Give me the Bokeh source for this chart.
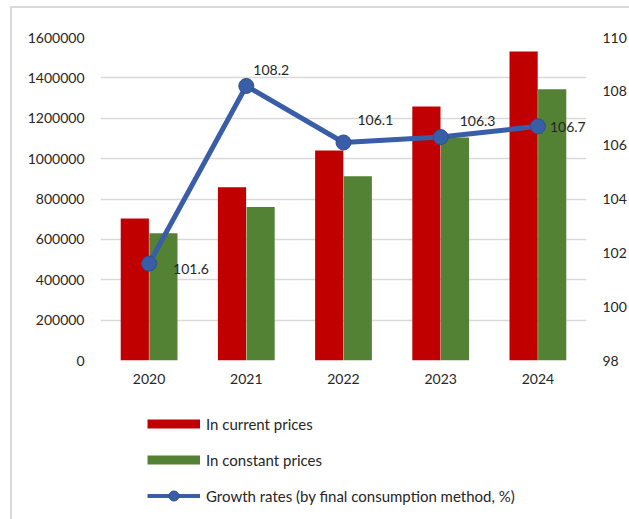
import math
from bokeh.plotting import figure
from bokeh.layouts import column
from bokeh.models import (FactorRange, Range1d, LinearAxis, Legend, LegendItem,
                          ColumnDataSource, FixedTicker, BasicTickFormatter, LabelSet)
from bokeh.transform import dodge
from bokeh.core.properties import value
from bokeh.embed import file_html
from bokeh.resources import INLINE

# ---- data ----
years = ["2020", "2021", "2022", "2023", "2024"]
current_prices = [703000, 858000, 1040000, 1258000, 1531000]
constant_prices = [630000, 760000, 913000, 1105000, 1344000]
growth_rates = [101.6, 108.2, 106.1, 106.3, 106.7]
left_ticks = [0, 200000, 400000, 600000, 800000, 1000000, 1200000, 1400000, 1600000]
right_ticks = [98, 100, 102, 104, 106, 108, 110]
series_names = ["In current prices", "In constant prices",
                "Growth rates (by final consumption method, %)"]

# label placement (pixels, style only)
label_dx = [24, 7, 14, 19, 12]
label_dy = [-5, 16, 22, 16, -1]

FONT = "Lato"
TEXT = "#262626"
RED = "#C00000"
GREEN = "#548235"
BLUE = "#3A5DA8"
GRID = "#D9D9D9"

src = ColumnDataSource(dict(
    year=years, current=current_prices, constant=constant_prices,
    growth=growth_rates, glabel=[f"{g:.1f}" for g in growth_rates],
    dx=label_dx, dy=label_dy,
))

p = figure(x_range=FactorRange(*years, range_padding=0),
           y_range=Range1d(0, 1600000),
           width=617, height=384, output_backend="svg", toolbar_location=None,
           min_border_left=88, min_border_right=42, min_border_top=29,
           min_border_bottom=32)
p.extra_y_ranges = {"rate": Range1d(98, 110)}
p.outline_line_color = None
p.background_fill_color = "white"
p.border_fill_color = "white"

p.xgrid.grid_line_color = None
p.ygrid.grid_line_color = GRID
p.ygrid.grid_line_width = 1.5
p.ygrid.ticker = FixedTicker(ticks=left_ticks)

ya = p.yaxis[0]
ya.ticker = FixedTicker(ticks=left_ticks)
ya.formatter = BasicTickFormatter(use_scientific=False)
ra = LinearAxis(y_range_name="rate", ticker=FixedTicker(ticks=right_ticks))
p.add_layout(ra, "right")

for ax in [ya, ra, p.xaxis[0]]:
    ax.axis_line_color = None
    ax.major_tick_line_color = None
    ax.minor_tick_line_color = None
    ax.major_tick_out = 0
    ax.major_tick_in = 0
    ax.minor_tick_out = 0
    ax.major_label_text_font = FONT
    ax.major_label_text_font_size = "14px"
    ax.major_label_text_color = TEXT
ya.major_label_standoff = 16
ra.major_label_standoff = 16
p.xaxis[0].major_label_standoff = 13

# bars
p.vbar(x=dodge("year", -0.147, range=p.x_range), top="current", width=0.29,
       source=src, fill_color=RED, line_color=None)
p.vbar(x=dodge("year", 0.147, range=p.x_range), top="constant", width=0.29,
       source=src, fill_color=GREEN, line_color=None)

# growth line
p.line(x="year", y="growth", source=src, y_range_name="rate",
       line_color=BLUE, line_width=5, line_join="round")
p.scatter(x="year", y="growth", source=src, y_range_name="rate",
          size=15, fill_color=BLUE, line_color="#2F4F8F", line_width=1)
labels = LabelSet(x="year", y="growth", text="glabel", source=src, y_range_name="rate",
                  x_offset="dx", y_offset="dy", text_align="left", text_baseline="middle",
                  text_font=value(FONT), text_font_size=value("14px"), text_color=TEXT)
p.add_layout(labels)

# ---- legend figure ----
lg = figure(x_range=Range1d(0, 1), y_range=Range1d(0, 1), width=617, height=127,
            output_backend="svg", toolbar_location=None,
            x_axis_location=None, y_axis_location=None,
            min_border_left=0, min_border_right=0, min_border_top=0, min_border_bottom=0)
lg.grid.visible = False
lg.outline_line_color = None
nan = [math.nan]
sw_red = lg.line(x=nan, y=nan, line_color=RED, line_width=9)
sw_green = lg.line(x=nan, y=nan, line_color=GREEN, line_width=9)
sw_blue = lg.line(x=nan, y=nan, line_color=BLUE, line_width=4)
sw_dot = lg.scatter(x=nan, y=nan, size=15, fill_color=BLUE, line_color="#2F4F8F", line_width=1)

legend = Legend(items=[
    LegendItem(label=series_names[0], renderers=[sw_red]),
    LegendItem(label=series_names[1], renderers=[sw_green]),
    LegendItem(label=series_names[2], renderers=[sw_blue, sw_dot]),
], location=(47, 11), orientation="vertical",
    glyph_width=53, glyph_height=25, label_height=25, spacing=11,
    padding=0, margin=0, border_line_color=None, background_fill_alpha=0,
    label_standoff=6, label_text_font=FONT, label_text_font_size="15px",
    label_text_color=TEXT)
lg.add_layout(legend, "center")

layout = column(p, lg, spacing=0)
layout.styles = {"margin-left": "10px", "margin-top": "6px",
                 "border-left": "2px solid #D9D9D9", "border-top": "2px solid #D9D9D9"}

open("out.html", "w").write(file_html(layout, INLINE))
